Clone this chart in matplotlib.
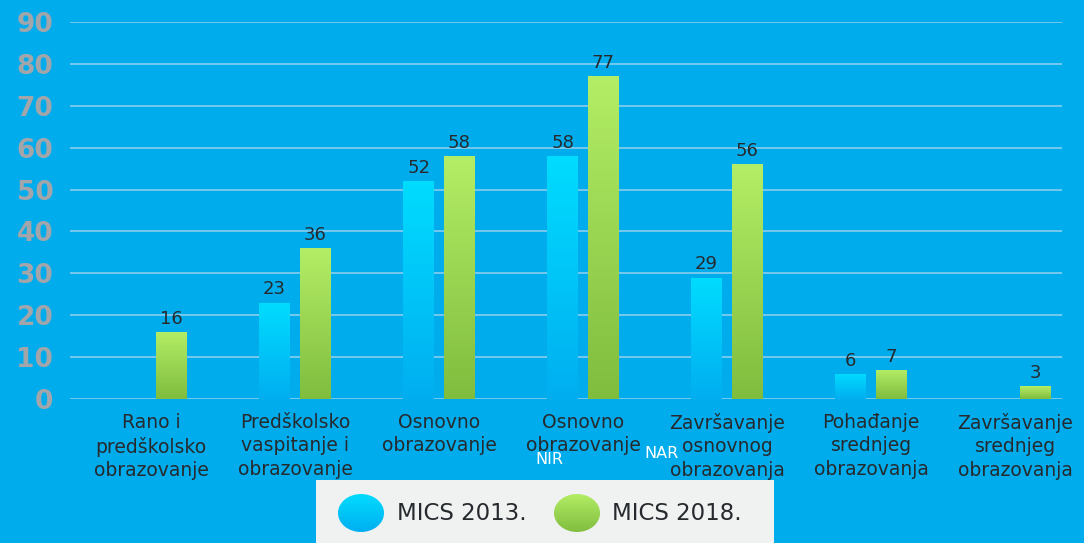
"""MICS 2013 vs 2018 - education indicators, grouped bar chart."""

import matplotlib

matplotlib.use("Agg")
import matplotlib.pyplot as plt
import numpy as np
from matplotlib.colors import LinearSegmentedColormap
from matplotlib.patches import Ellipse, Rectangle

categories = [
    "Rano i\npredškolsko\nobrazovanje",
    "Predškolsko\nvaspitanje i\nobrazovanje",
    "Osnovno\nobrazovanje",
    "Osnovno\nobrazovanje",
    "Završavanje\nosnovnog\nobrazovanja",
    "Pohađanje\nsrednjeg\nobrazovanja",
    "Završavanje\nsrednjeg\nobrazovanja",
]
mics_2013 = [np.nan, 23, 52, 58, 29, 6, np.nan]
mics_2018 = [16, 36, 58, 77, 56, 7, 3]
series_names = ["MICS 2013.", "MICS 2018."]
y_ticks = list(range(0, 91, 10))

BG = "#00acec"
GRID = "#7fcbee"
TEXT = "#262a2e"
BLUE = ("#00dcff", "#00aef0")   # top, bottom
GREEN = ("#b4ee66", "#80bc3e")

W, H = 1084, 543
fig = plt.figure(figsize=(W / 100, H / 100), dpi=100, facecolor=BG)
ax = fig.add_axes([70 / W, 1 - 399 / H, (1062 - 70) / W, (399 - 22) / H])
ax.set_facecolor(BG)

x = np.arange(len(categories))
bw = 0.21
off = 0.142


def gradient_bars(bars, colours):
    cmap = LinearSegmentedColormap.from_list("g", [colours[1], colours[0]])
    grad = np.linspace(0, 1, 256).reshape(-1, 1)
    for b in bars:
        h = b.get_height()
        if not np.isfinite(h) or h <= 0:
            continue
        x0, w = b.get_x(), b.get_width()
        im = ax.imshow(grad, cmap=cmap, origin="lower", aspect="auto",
                       extent=(x0, x0 + w, 0, h), zorder=3)
        im.set_clip_path(b)
        b.set_facecolor("none")


b13 = ax.bar(x - off, mics_2013, bw, color=BLUE[0], linewidth=0, zorder=2)
b18 = ax.bar(x + off, mics_2018, bw, color=GREEN[0], linewidth=0, zorder=2)
gradient_bars(b13, BLUE)
gradient_bars(b18, GREEN)

for bars, vals in ((b13, mics_2013), (b18, mics_2018)):
    for b, v in zip(bars, vals):
        if np.isfinite(v):
            ax.annotate(f"{v:g}", (b.get_x() + b.get_width() / 2, v),
                        xytext=(0, 3), textcoords="offset points",
                        ha="center", va="bottom", fontsize=13, color=TEXT,
                        zorder=4)

ax.set_xlim(-0.5625, 6.326)
ax.set_ylim(0, 90)
ax.set_yticks(y_ticks)
ax.set_yticklabels([str(t) for t in y_ticks], fontsize=19, fontweight="bold",
                   color="#a2a6aa")
ax.tick_params(axis="y", length=0, pad=12)
ax.set_xticks(x)
ax.set_xticklabels(categories, fontsize=13.5, color=TEXT, linespacing=1.3)
ax.tick_params(axis="x", length=0, pad=10)
ax.grid(axis="y", color=GRID, linewidth=1.3, zorder=0)
ax.set_axisbelow(True)
for s in ax.spines.values():
    s.set_visible(False)

# NIR / NAR notes under the 4th group
fig.text(549 / W, 1 - 459 / H, "NIR", color="white", fontsize=11.5,
         ha="center", va="center")
fig.text(661 / W, 1 - 454 / H, "NAR", color="white", fontsize=11.5,
         ha="center", va="center")

# legend box
fig.patches.append(Rectangle((316 / W, 0), (774 - 316) / W, (H - 480) / H,
                             transform=fig.transFigure, facecolor="#f0f2f2",
                             edgecolor="none", zorder=1))
for cx, tx, cols, name in ((361, 397, BLUE, series_names[0]),
                           (577, 612, GREEN, series_names[1])):
    lax = fig.add_axes([(cx - 24) / W, 1 - (513 + 20) / H, 48 / W, 40 / H])
    lax.set_zorder(3)
    lax.set_axis_off()
    cmap = LinearSegmentedColormap.from_list("g", [cols[1], cols[0]])
    im = lax.imshow(np.linspace(0, 1, 64).reshape(-1, 1), cmap=cmap,
                    origin="lower", aspect="auto", extent=(0, 1, 0, 1))
    ell = Ellipse((0.5, 0.5), 0.96, 0.95, transform=lax.transData,
                  facecolor="none", edgecolor="none")
    lax.add_patch(ell)
    im.set_clip_path(ell)
    lax.set_xlim(0, 1)
    lax.set_ylim(0, 1)
    fig.text(tx / W, 1 - 514 / H, name, fontsize=16.5, color=TEXT,
             ha="left", va="center", zorder=4)

fig.savefig("out.png", dpi=100, facecolor=BG)
